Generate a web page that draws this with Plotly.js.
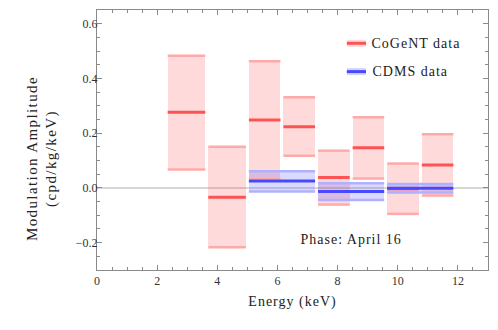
<!DOCTYPE html>
<html>
<head>
<meta charset="utf-8">
<script src="https://cdn.plot.ly/plotly-3.0.1.min.js"></script>
<style>
  html, body { margin: 0; padding: 0; background: #fff; }
  #chart { width: 498px; height: 330px; }
  #chart .g-xtitle text, #chart .annotation text { letter-spacing: 1px; }
  #chart .annotation[data-index="1"] text { letter-spacing: 1.4px; }
</style>
</head>
<body>
<div id="chart"></div>
<script>
  // CoGeNT bins (keV) and modulation amplitude
  var cogentLo = [2.35, 3.7, 5.05, 6.2, 7.35, 8.5, 9.65, 10.8];
  var cogentHi = [3.6, 4.95, 6.1, 7.25, 8.4, 9.55, 10.7, 11.85];
  var cogentVal = [0.276, -0.034, 0.248, 0.223, 0.038, 0.147, -0.003, 0.084];
  var cogentUp = [0.483, 0.150, 0.463, 0.331, 0.136, 0.258, 0.089, 0.196];
  var cogentDown = [0.067, -0.217, 0.033, 0.117, -0.061, 0.034, -0.095, -0.028];

  // CDMS bins
  var cdmsLo = [5.05, 7.35, 9.65];
  var cdmsHi = [7.25, 9.55, 11.85];
  var cdmsVal = [0.025, -0.013, -0.001];
  var cdmsUp = [0.061, 0.017, 0.014];
  var cdmsDown = [-0.013, -0.044, -0.017];

  var serif = "Liberation Serif, Times New Roman, serif";

  function band(lo, hi, up, down, color) {
    return {
      type: "bar",
      x: lo.map(function (l, i) { return (l + hi[i]) / 2; }),
      width: lo.map(function (l, i) { return hi[i] - l; }),
      base: down,
      y: up.map(function (u, i) { return u - down[i]; }),
      marker: { color: color, line: { width: 0 } },
      showlegend: false,
      hoverinfo: "skip"
    };
  }

  function segs(lo, hi, vals, color, w) {
    var xs = [], ys = [];
    lo.forEach(function (l, i) {
      xs.push(l, hi[i], null);
      ys.push(vals[i], vals[i], null);
    });
    return {
      type: "scatter", mode: "lines", x: xs, y: ys,
      line: { color: color, width: w },
      showlegend: false, hoverinfo: "skip"
    };
  }

  var traces = [
    band(cogentLo, cogentHi, cogentUp, cogentDown, "rgba(255,70,70,0.2)"),
    segs(cogentLo, cogentHi, cogentUp, "#ffaaaa", 2.5),
    segs(cogentLo, cogentHi, cogentDown, "#ffaaaa", 2.5),
    segs(cogentLo, cogentHi, cogentVal, "#ff5252", 3),
    band(cdmsLo, cdmsHi, cdmsUp, cdmsDown, "rgba(70,70,255,0.2)"),
    segs(cdmsLo, cdmsHi, cdmsUp, "#b0b0ff", 2.5),
    segs(cdmsLo, cdmsHi, cdmsDown, "#b0b0ff", 2.5),
    segs(cdmsLo, cdmsHi, cdmsVal, "#4848ff", 3)
  ];

  var axisBase = {
    showgrid: false, zeroline: false, showline: true, mirror: "allticks",
    linecolor: "#8a8a8a", linewidth: 1, ticks: "inside", ticklen: 5, tickcolor: "#8a8a8a",
    tickfont: { family: serif, size: 12, color: "#333" }, fixedrange: true
  };

  // legend sample positions (paper coords)
  var legX0 = 0.639, legX1 = 0.688, legTextX = 0.71;
  var legY = [0.872, 0.763];

  var layout = {
    width: 498, height: 330,
    margin: { l: 97, r: 10, t: 10, b: 60 },
    paper_bgcolor: "#fff", plot_bgcolor: "#fff",
    font: { family: serif, color: "#222" },
    barmode: "overlay", bargap: 0,
    showlegend: false,
    xaxis: Object.assign({}, axisBase, {
      range: [0, 13], dtick: 2, tick0: 0,
      minor: { dtick: 0.5, ticks: "inside", ticklen: 3, tickcolor: "#8a8a8a" },
      title: { text: "Energy (keV)", font: { family: serif, size: 14, color: "#222" }, standoff: 8 }
    }),
    yaxis: Object.assign({}, axisBase, {
      range: [-0.3, 0.65], dtick: 0.2, tick0: 0, tickformat: ".1f",
      ticklabelstandoff: -4,
      minor: { dtick: 0.05, ticks: "inside", ticklen: 3, tickcolor: "#8a8a8a" }
    }),
    shapes: [
      { type: "line", xref: "paper", x0: 0, x1: 1, yref: "y", y0: 0, y1: 0,
        line: { color: "rgba(190,190,190,0.8)", width: 1.5 }, layer: "below" },
      { type: "line", xref: "paper", yref: "paper", x0: legX0, x1: legX1, y0: legY[0], y1: legY[0],
        line: { color: "#ffd8d8", width: 7 } },
      { type: "line", xref: "paper", yref: "paper", x0: legX0, x1: legX1, y0: legY[0], y1: legY[0],
        line: { color: "#ff5252", width: 3 } },
      { type: "line", xref: "paper", yref: "paper", x0: legX0, x1: legX1, y0: legY[1], y1: legY[1],
        line: { color: "#d4d4ff", width: 7 } },
      { type: "line", xref: "paper", yref: "paper", x0: legX0, x1: legX1, y0: legY[1], y1: legY[1],
        line: { color: "#4848ff", width: 3 } }
    ],
    annotations: [
      { x: 8.45, y: -0.187, xref: "x", yref: "y", showarrow: false,
        text: "Phase: April 16", font: { family: serif, size: 14, color: "#222" } },
      { x: -0.141, y: 0.43, xref: "paper", yref: "paper", showarrow: false, textangle: -90,
        xanchor: "center", yanchor: "middle",
        text: "Modulation Amplitude<br>(cpd/kg/keV)", font: { family: serif, size: 15, color: "#222" } },
      { x: legTextX, y: legY[0], xref: "paper", yref: "paper", showarrow: false,
        xanchor: "left", yanchor: "middle",
        text: "CoGeNT data", font: { family: serif, size: 14, color: "#222" } },
      { x: legTextX, y: legY[1], xref: "paper", yref: "paper", showarrow: false,
        xanchor: "left", yanchor: "middle",
        text: "CDMS data", font: { family: serif, size: 14, color: "#222" } }
    ]
  };

  Plotly.newPlot("chart", traces, layout, { displayModeBar: false, staticPlot: true });
</script>
</body>
</html>
